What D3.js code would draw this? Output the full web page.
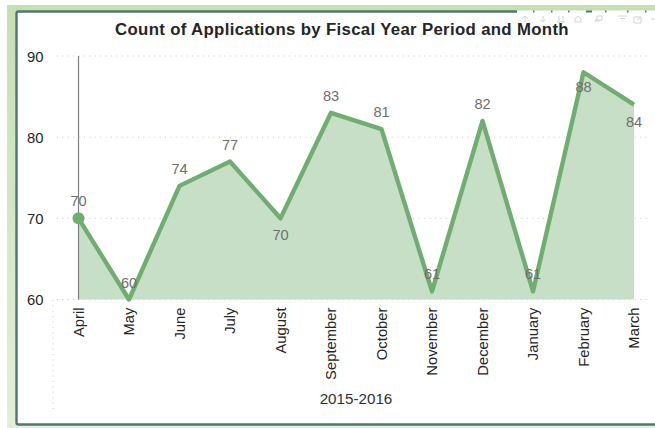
<!DOCTYPE html>
<html><head><meta charset="utf-8">
<script src="https://cdn.jsdelivr.net/npm/d3@7/dist/d3.min.js"></script>
<style>html,body{margin:0;padding:0;background:#fff}svg{display:block}text{font-family:"Liberation Sans",Arial,sans-serif}</style>
</head><body><svg id="c" width="655" height="428"></svg>
<script>
const months=["April","May","June","July","August","September","October","November","December","January","February","March"];
const counts=[70,60,74,77,70,83,81,61,82,61,88,84];
const labelBelow=["August","February","March"];
const yTicks=[60,70,80,90];
const title="Count of Applications by Fiscal Year Period and Month";
const groupLabel="2015-2016";

const svg=d3.select("#c");
const x=d3.scalePoint().domain(months).range([78.5,634]);
const y=d3.scaleLinear().domain([60,90]).range([299.5,56]);

// frame
const grad=svg.append("defs").append("linearGradient").attr("id","fr").attr("x1",0).attr("x2",0).attr("y1",0).attr("y2",1);
grad.append("stop").attr("offset",0).attr("stop-color","#c5dfb4");
grad.append("stop").attr("offset",1).attr("stop-color","#e2efd9");
svg.append("rect").attr("x",7).attr("y",5).attr("width",648).attr("height",423).attr("fill","url(#fr)");
svg.append("rect").attr("x",16.5).attr("y",11.5).attr("width",650).attr("height",413).attr("rx",2).attr("fill","#fff").attr("stroke","#4f7a6b").attr("stroke-width",2.4);

// top border is interrupted by the hover header
svg.append("rect").attr("x",517).attr("y",10).attr("width",138).attr("height",4).attr("fill","#fff");
svg.append("rect").attr("x",517).attr("y",5).attr("width",138).attr("height",5.5).attr("fill","#c5dfb4");
const hdrTicks=[533,551,568,586,605,627,645];
svg.selectAll(".ht").data(hdrTicks).join("rect").attr("x",d=>d).attr("y",10.5).attr("width",d=>d===586?6:1.5).attr("height",2).attr("fill","#4f7a6b");

// header icons
const icon=svg.append("g").attr("fill","none").attr("stroke","#d4d4d4").attr("stroke-width",1);
["M525 22V16M522.500 18.500L525 16L527.500 18.500","M543 16V22M540.500 19.500L543 22L545.500 19.500",
 "M559 16V23M563 16V23M557.500 21L559 23L560.500 21M561.500 21L563 23L564.500 21","M578 16L581 19V22H575V19Z",
 "M602 16H597V20H602ZM597 20H595V21H600V20","M618 16H627M620 18.500H625M622 21H623",
 "M634 17H641V23H634ZM637 20L641 17","M651 19H655"].forEach(d=>icon.append("path").attr("d",d));

// grid
const grid=svg.append("g").attr("stroke","#c8c8c8").attr("stroke-width",1).attr("stroke-dasharray","1 4.4");
grid.selectAll("line").data(yTicks).join("line")
  .attr("x1",57).attr("x2",650).attr("y1",d=>y(d)).attr("y2",d=>y(d));
grid.append("line").attr("x1",53).attr("x2",53).attr("y1",300).attr("y2",412);

// area + line
svg.append("path").datum(counts).attr("fill","#c7dfc7")
  .attr("d",d3.area().x((d,i)=>x(months[i])).y0(y(60)).y1(d=>y(d)));
svg.append("line").attr("x1",x("April")).attr("x2",x("April")).attr("y1",y(90)).attr("y2",y(60)).attr("stroke","#7f7f7f").attr("stroke-width",1.2);
svg.append("path").datum(counts).attr("fill","none").attr("stroke","#70ae70").attr("stroke-width",4.4).attr("stroke-linejoin","round")
  .attr("d",d3.line().x((d,i)=>x(months[i])).y(d=>y(d)));
svg.append("circle").attr("cx",x("April")).attr("cy",y(counts[0])).attr("r",6).attr("fill","#70ae70");

// value labels
svg.selectAll(".v").data(counts).join("text").attr("class","v")
  .attr("x",(d,i)=>x(months[i])).attr("text-anchor","middle").attr("font-size",14.6).attr("fill","#6e6e6e")
  .attr("y",(d,i)=>labelBelow.includes(months[i])?y(d)+(months[i]==="February"?20:22):y(d)-12)
  .text(d=>d);

// y axis
const ya=svg.append("g").call(d3.axisLeft(y).tickValues(yTicks).tickSize(0).tickPadding(0)).attr("transform","translate(43.500,0)");
ya.select(".domain").remove();
ya.selectAll("text").attr("font-size",14.8).attr("fill","#252525").attr("font-family",'"Liberation Sans",Arial,sans-serif').attr("dy",".34em");

// x axis
const xa=svg.append("g").attr("transform","translate(0,307.500)").call(d3.axisBottom(x).tickSize(0).tickPadding(0));
xa.select(".domain").remove();
xa.selectAll("text").attr("font-size",14.8).attr("fill","#252525").attr("font-family",'"Liberation Sans",Arial,sans-serif')
  .attr("text-anchor","end").attr("dy",0).attr("y",0)
  .attr("transform","translate(4.500,0) rotate(-90)");

svg.append("text").attr("x",356).attr("y",404).attr("text-anchor","middle").attr("font-size",15.2).attr("fill","#303030").text(groupLabel);
svg.append("text").attr("x",342).attr("y",35).attr("text-anchor","middle").attr("font-size",16.8).attr("letter-spacing",0.33).attr("font-weight","bold").attr("fill","#252525").text(title);
</script></body></html>
